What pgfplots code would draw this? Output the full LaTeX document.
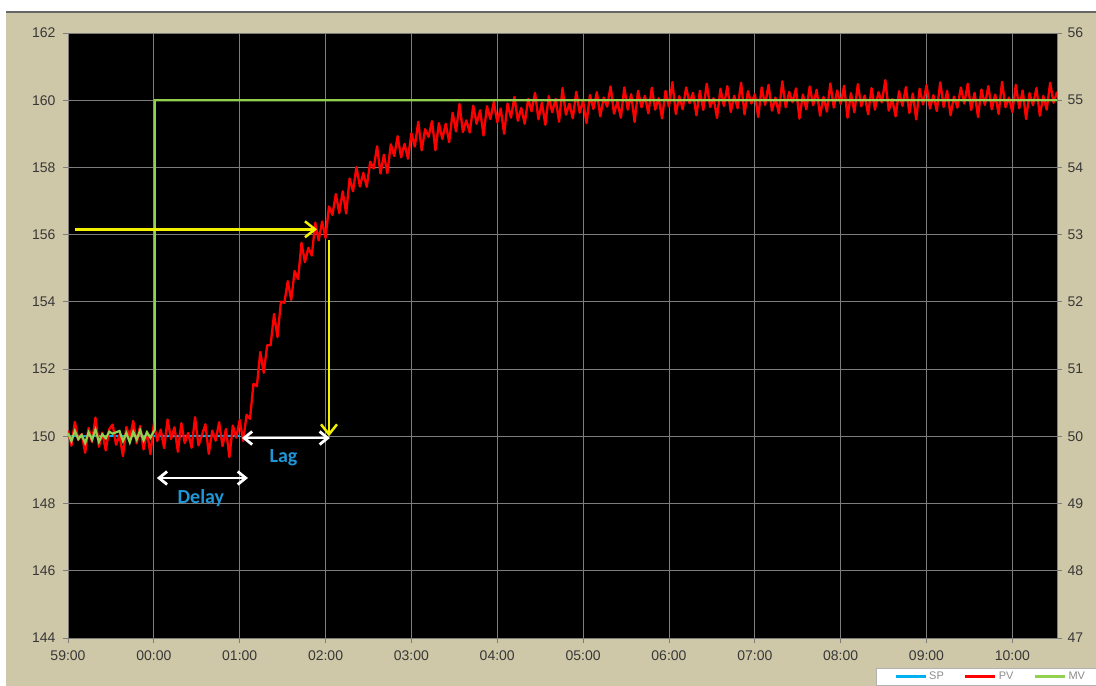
\documentclass[border=0pt]{standalone}
\usepackage{pgfplots}
\pgfplotsset{compat=1.18}
\usepackage{pgfplotstable}
\usepackage{fontspec}
\setmainfont{Liberation Sans}
\newfontfamily\calibri{Carlito}
\usetikzlibrary{arrows.meta}
\definecolor{bgbeige}{RGB}{207,200,168}
\definecolor{ticktext}{RGB}{55,55,55}
\definecolor{gridc}{RGB}{125,125,125}
\definecolor{pvred}{RGB}{255,0,0}
\definecolor{mvgreen}{RGB}{146,208,80}
\definecolor{spblue}{RGB}{0,176,240}
\definecolor{annyellow}{RGB}{240,240,0}
\definecolor{labelblue}{RGB}{30,150,215}
\definecolor{legtext}{RGB}{140,140,140}

\pgfplotstableread{
t v
-1.00 150.17
-0.96 149.72
-0.92 150.43
-0.88 149.89
-0.84 150.07
-0.80 149.51
-0.76 150.25
-0.72 149.83
-0.68 150.56
-0.64 149.69
-0.60 150.11
-0.56 149.58
-0.52 150.21
-0.48 150.35
-0.44 149.75
-0.40 150.04
-0.36 149.41
-0.32 150.28
-0.28 149.93
-0.24 150.46
-0.20 149.79
-0.16 150.31
-0.12 149.61
-0.08 150.14
-0.04 149.47
0.00 150.38
0.04 149.86
0.08 150.20
0.12 149.65
0.16 150.50
0.20 149.92
0.24 150.27
0.28 149.54
0.32 150.39
0.36 149.80
0.40 150.10
0.44 149.66
0.48 150.57
0.52 149.73
0.56 150.03
0.60 150.36
0.64 149.48
0.68 150.17
0.72 149.87
0.76 150.42
0.80 149.71
0.84 150.22
0.88 149.38
0.92 150.32
0.96 149.96
1.00 150.49
1.04 149.86
1.08 150.64
1.12 150.52
1.16 151.56
1.20 151.49
1.24 152.51
1.28 151.89
1.32 152.71
1.36 152.71
1.40 153.64
1.44 152.95
1.48 154.01
1.52 153.97
1.56 154.62
1.60 154.06
1.64 154.92
1.68 154.68
1.72 155.76
1.76 155.18
1.80 155.61
1.84 155.38
1.88 156.36
1.92 155.83
1.96 156.39
2.00 155.90
2.04 156.84
2.08 156.59
2.12 157.21
2.16 156.64
2.20 157.29
2.24 156.63
2.28 157.67
2.32 157.29
2.36 158.01
2.40 157.43
2.44 157.84
2.48 157.42
2.52 158.17
2.56 157.97
2.60 158.63
2.64 157.82
2.68 158.38
2.72 157.83
2.76 158.69
2.80 158.34
2.84 158.93
2.88 158.30
2.92 158.70
2.96 158.26
3.00 159.02
3.04 158.62
3.08 159.36
3.12 158.51
3.16 159.14
3.20 158.91
3.24 159.38
3.28 158.51
3.32 159.32
3.36 158.85
3.40 159.30
3.44 158.75
3.48 159.63
3.52 159.07
3.56 159.89
3.60 159.05
3.64 159.40
3.68 159.04
3.72 159.84
3.76 159.30
3.80 159.70
3.84 158.95
3.88 159.82
3.92 159.44
3.96 159.95
4.00 159.34
4.04 159.75
4.08 159.00
4.12 159.90
4.16 159.48
4.20 160.10
4.24 159.39
4.28 159.77
4.32 159.30
4.36 160.04
4.40 159.67
4.44 160.22
4.48 159.43
4.52 159.93
4.56 159.27
4.60 160.12
4.64 159.64
4.68 160.04
4.72 159.36
4.76 160.36
4.80 159.57
4.84 159.90
4.88 159.46
4.92 160.25
4.96 159.63
5.00 159.99
5.04 159.32
5.08 160.16
5.12 159.74
5.16 160.24
5.20 159.52
5.24 160.08
5.28 159.81
5.32 160.41
5.36 159.60
5.40 159.96
5.44 159.48
5.48 160.38
5.52 159.72
5.56 160.18
5.60 159.35
5.64 160.28
5.68 159.79
5.72 160.13
5.76 159.61
5.80 160.37
5.84 159.72
5.88 160.06
5.92 159.46
5.96 160.28
6.00 159.81
6.04 160.54
6.08 159.59
6.12 160.12
6.16 159.73
6.20 160.38
6.24 159.91
6.28 160.22
6.32 159.55
6.36 160.28
6.40 159.71
6.44 160.49
6.48 159.80
6.52 160.06
6.56 159.47
6.60 160.34
6.64 159.83
6.68 160.42
6.72 159.65
6.76 160.13
6.80 159.76
6.84 160.52
6.88 159.58
6.92 160.27
6.96 159.90
7.00 160.18
7.04 159.50
7.08 160.38
7.12 159.86
7.16 160.46
7.20 159.69
7.24 160.08
7.28 159.61
7.32 160.56
7.36 159.79
7.40 160.25
7.44 159.94
7.48 160.35
7.52 159.45
7.56 160.17
7.60 159.73
7.64 160.41
7.68 159.85
7.72 160.31
7.76 159.54
7.80 160.10
7.84 159.66
7.88 160.50
7.92 159.78
7.96 160.29
8.00 159.89
8.04 160.43
8.08 159.48
8.12 160.21
8.16 159.64
8.20 160.48
8.24 159.82
8.28 160.14
8.32 159.58
8.36 160.36
8.40 159.72
8.44 160.24
8.48 159.93
8.52 160.60
8.56 159.69
8.60 160.03
8.64 159.52
8.68 160.27
8.72 159.83
8.76 160.39
8.80 159.62
8.84 160.20
8.88 159.43
8.92 160.34
8.96 159.87
9.00 160.45
9.04 159.75
9.08 160.15
9.12 159.68
9.16 160.53
9.20 159.80
9.24 160.28
9.28 159.55
9.32 160.11
9.36 159.78
9.40 160.38
9.44 159.90
9.48 160.49
9.52 159.71
9.56 160.22
9.60 159.50
9.64 160.32
9.68 159.86
9.72 160.42
9.76 159.73
9.80 160.17
9.84 159.59
9.88 160.55
9.92 159.79
9.96 160.08
10.00 159.65
10.04 160.46
10.08 159.76
10.12 160.29
10.16 159.44
10.20 160.21
10.24 159.85
10.28 160.36
10.32 159.54
10.36 160.13
10.40 159.72
10.44 160.52
10.48 159.92
10.52 160.25
}\pvdata

\pgfplotstableread{
t v
-1.00 50.05
-0.96 49.93
-0.92 50.08
-0.88 49.96
-0.84 50.02
-0.80 49.90
-0.76 50.06
-0.72 49.95
-0.68 50.10
-0.64 49.92
-0.60 50.03
-0.56 49.97
-0.52 50.07
-0.48 50.04
-0.44 50.06
-0.40 50.08
-0.36 49.93
-0.32 50.05
-0.28 49.91
-0.24 50.07
-0.20 49.95
-0.16 50.09
-0.12 49.94
-0.08 50.06
-0.04 49.98
0.01 50.10
0.01 55.00
10.52 55.00
}\mvdata

\begin{document}
\begin{tikzpicture}
\path[use as bounding box] (0pt,0pt) rectangle (1096pt,686pt);
\fill[white] (0pt,0pt) rectangle (1096pt,686pt);
\fill[bgbeige] (6pt,0pt) rectangle (1096pt,674pt);
\draw[gray!80!black,line width=1.2pt] (6pt,674pt) -- (1096pt,674pt);

\pgfplotsset{
  common/.style={
    at={(68pt,48pt)}, anchor=south west,
    scale only axis, width=989pt, height=605pt,
    xmin=-1, xmax=10.52,
    tick align=outside, major tick length=5pt,
    major tick style={gridc, line width=0.8pt},
    tick label style={font=\fontsize{14}{16}\selectfont, text=ticktext},
    /pgf/number format/assume math mode=true,
    axis line style={gridc, line width=0.8pt},
  }
}

\begin{axis}[common,
  ymin=144, ymax=162,
  ytick={144,146,...,162},
  xtick={-1,0,...,10},
  xticklabels={59:00,00:00,01:00,02:00,03:00,04:00,05:00,06:00,07:00,08:00,09:00,10:00},
  xtick pos=bottom, ytick pos=left,
  xticklabel style={yshift=-4pt},
  yticklabel style={xshift=-4pt},
  axis background/.style={fill=black},
  grid=major,
  major grid style={gridc, line width=0.8pt},
]
\addplot[spblue, line width=2pt] coordinates {(-1,150) (1.0,150)};
\addplot[pvred, line width=2.3pt, line join=round] table[x=t,y=v]{\pvdata};
\end{axis}

\begin{axis}[common,
  ymin=47, ymax=56,
  ytick={47,48,...,56},
  axis x line=none, axis y line*=right,
  yticklabel style={xshift=2pt},
  legend style={at={(0.817,-0.0496)}, anchor=north west, draw=gray!60, fill=white,
    legend columns=3, font=\fontsize{11}{13}\selectfont, text=legtext,
    inner xsep=18pt, inner ysep=2pt,
    /tikz/every even column/.append style={column sep=18pt}},
  legend image code/.code={\draw[#1, line width=3pt] (0pt,0pt) -- (30pt,0pt);},
]
\addlegendimage{spblue}
\addlegendentry{SP}
\addlegendimage{pvred}
\addlegendentry{PV}
\addplot[mvgreen, line width=2.2pt] table[x=t,y=v]{\mvdata};
\addlegendentry{MV}

\draw[annyellow, line width=2.5pt, -{Straight Barb[length=10pt,width=16pt]}]
  (axis cs:-0.918,53.08) -- (axis cs:1.90,53.08);
\draw[annyellow, line width=2.5pt, -{Straight Barb[length=10pt,width=16pt]}]
  (axis cs:2.04,52.92) -- (axis cs:2.04,50.0);
\draw[white, line width=2.8pt, {Straight Barb[length=8pt,width=13pt]}-{Straight Barb[length=8pt,width=13pt]}]
  (axis cs:1.026,49.975) -- (axis cs:2.05,49.975);
\draw[white, line width=2.8pt, {Straight Barb[length=8pt,width=13pt]}-{Straight Barb[length=8pt,width=13pt]}]
  (axis cs:0.035,49.38) -- (axis cs:1.096,49.38);
\node[anchor=base, text=labelblue, font=\calibri\bfseries\fontsize{20}{24}\selectfont] at (axis cs:1.51,49.605) {Lag};
\node[anchor=base, text=labelblue, font=\calibri\bfseries\fontsize{20}{24}\selectfont] at (axis cs:0.548,48.995) {Delay};
\end{axis}
\end{tikzpicture}
\end{document}
